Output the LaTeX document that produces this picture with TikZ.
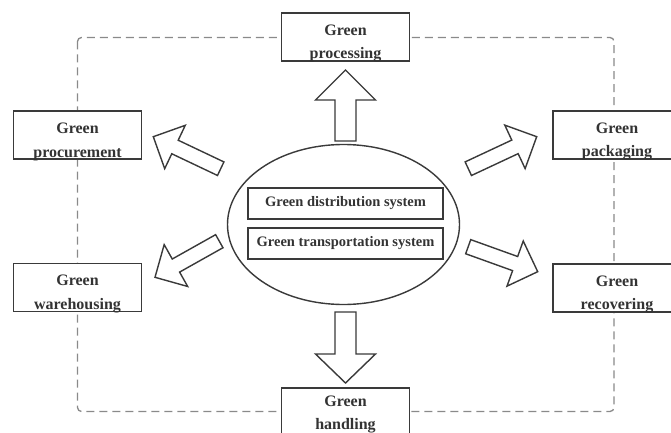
\documentclass[tikz,border=0pt]{standalone}
\usepackage{fontspec}
\setmainfont{Liberation Serif}
\usetikzlibrary{shapes.geometric,calc}
\definecolor{edge}{HTML}{3A3A3A}
\definecolor{txt}{HTML}{333333}
\definecolor{dash}{HTML}{8A8A8A}
\newcommand\barrow[5]{%
  \draw[blockarrow]
    ($(#1)!#3!90:(#2)$) --
    ($($(#2)!#5!(#1)$)!#3!90:(#2)$) --
    ($($(#2)!#5!(#1)$)!#4!90:(#2)$) --
    (#2) --
    ($($(#2)!#5!(#1)$)!#4!-90:(#2)$) --
    ($($(#2)!#5!(#1)$)!#3!-90:(#2)$) --
    ($(#1)!#3!-90:(#2)$) -- cycle;}
\begin{document}
\begin{tikzpicture}[x=1pt,y=-1pt,
  outerbox/.style={draw=edge,line width=1.5pt,fill=white,minimum width=128pt,minimum height=48pt,inner sep=0pt},
  lbl/.style={text=txt,font=\bfseries\fontsize{16}{23.5}\selectfont,align=center,inner sep=0pt},
  innerbox/.style={draw=edge,line width=1.4pt,fill=white,minimum width=195pt,minimum height=31pt,inner sep=0pt,text=txt,font=\bfseries\fontsize{14.5}{17}\selectfont},
  blockarrow/.style={draw=edge,line width=1.4pt,fill=white,line join=miter},
  frame/.style={draw=dash,line width=1.3pt,dash pattern=on 8pt off 5pt,rounded corners=4pt}]
\useasboundingbox (0,0) rectangle (671,433);
\fill[white] (0,0) rectangle (671,433);
% dashed frame
\draw[frame] (77.5,37.5) rectangle (614,411.5);
% central ellipse
\node[ellipse,draw=edge,line width=1.4pt,fill=white,minimum width=232pt,minimum height=160pt,inner sep=0pt] (core) at (343.5,224.5) {};
\node[innerbox] (dist) at (345.5,203.5) {Green distribution system};
\node[innerbox] (trans) at (345.5,243.5) {Green transportation system};
% outer boxes
\node[outerbox] (proc) at (345.5,37.2) {};
\node[lbl] (procT) at ([yshift=-6.5pt]proc.center) {Green\\processing};
\node[outerbox] (procu) at (77.5,135.2) {};
\node[lbl] (procuT) at ([yshift=-6.5pt]procu.center) {Green\\procurement};
\node[outerbox] (pack) at (617,135.2) {};
\node[lbl] (packT) at ([yshift=-6.5pt]pack.center) {Green\\packaging};
\node[outerbox] (ware) at (77.5,287.5) {};
\node[lbl] (wareT) at ([yshift=-6.5pt]ware.center) {Green\\warehousing};
\node[outerbox] (reco) at (617,287.8) {};
\node[lbl] (recoT) at ([yshift=-6.5pt]reco.center) {Green\\recovering};
\node[outerbox] (hand) at (345.5,412) {};
\node[lbl] (handT) at ([yshift=-2.5pt]hand.center) {Green\\handling};
% arrow anchors
\coordinate (upT) at (345.5,141);
\coordinate (upH) at (345.5,70);
\coordinate (dnT) at (345.5,312);
\coordinate (dnH) at (345.5,383);
\coordinate (ulT) at (220.7,168.7);
\coordinate (ulH) at (153.3,136.7);
\coordinate (urT) at (468.3,168.7);
\coordinate (urH) at (536.7,136.7);
\coordinate (llT) at (219.3,241.2);
\coordinate (llH) at (155,277.3);
\coordinate (lrT) at (468.2,246.7);
\coordinate (lrH) at (537.7,271.7);
\barrow{upT}{upH}{10.5pt}{30pt}{30pt}
\barrow{dnT}{dnH}{10.5pt}{30pt}{29pt}
\barrow{ulT}{ulH}{7.5pt}{24pt}{24pt}
\barrow{urT}{urH}{7.5pt}{24pt}{24pt}
\barrow{llT}{llH}{7.5pt}{24pt}{24pt}
\barrow{lrT}{lrH}{7.5pt}{24pt}{24pt}
\end{tikzpicture}
\end{document}
